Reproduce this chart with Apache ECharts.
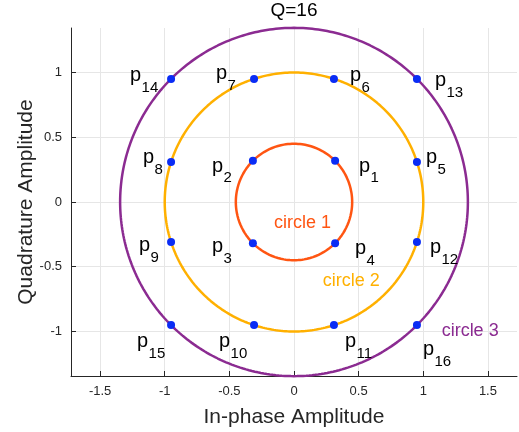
<!DOCTYPE html>
<html>
<head>
<meta charset="utf-8">
<script src="https://cdn.jsdelivr.net/npm/echarts@6/dist/echarts.min.js"></script>
<style>
  html, body { margin: 0; padding: 0; background: #fff; }
  #chart { width: 519px; height: 432px; }
</style>
</head>
<body>
<div id="chart"></div>
<script>
// Axis ticks
const xTicks = [-1.5, -1, -0.5, 0, 0.5, 1, 1.5];
const yTicks = [-1, -0.5, 0, 0.5, 1];

// Constellation rings
const circleNames = ['circle 1', 'circle 2', 'circle 3'];
const circleRadii = [0.45, 1.0, 1.345];
// Where each ring's name is written (data units, left edge / vertical middle)
const circleLabelX = [-0.155, 0.222, 1.142];
const circleLabelY = [-0.162, -0.613, -0.993];

// Constellation points p1..p16
const pointIds = ['1', '2', '3', '4', '5', '6', '7', '8', '9', '10', '11', '12', '13', '14', '15', '16'];
const pointI = [0.318, -0.318, -0.318, 0.318, 0.951, 0.309, -0.309, -0.951, -0.951, -0.309, 0.309, 0.951, 0.951, -0.951, -0.951, 0.951];
const pointQ = [0.318, 0.318, -0.318, -0.318, 0.309, 0.951, 0.951, 0.309, -0.309, -0.951, -0.951, -0.309, 0.951, 0.951, -0.951, -0.951];

// Layout: pixel shift of each point's name from the point
// (left edge of the "p", top of its bowl)
const labelShift = [
  [25, 2], [-40, 2], [-40, 0], [21, 2], [10, -8], [17, -7], [-37, -9], [-27, -8],
  [-31, 0], [-34, 13], [12, 13], [14, 2], [19, -2], [-40, -7], [-33, 13], [7, 21]
];

const circleColors = ['#ff5512', '#ffb000', '#8b2b91'];
const FONT = '"Liberation Sans", Arial, Helvetica, sans-serif';
const AXIS_COLOR = '#262626';
const P_SIZE = 20;
const SUB_SIZE = 15;

function ringPath(r) {
  const pts = [];
  for (let k = 0; k <= 360; k++) {
    const t = k * Math.PI / 180;
    pts.push([r * Math.cos(t), r * Math.sin(t)]);
  }
  return pts;
}

const series = [];
circleRadii.forEach((r, i) => {
  series.push({
    name: circleNames[i],
    type: 'line',
    data: ringPath(r),
    showSymbol: false,
    symbol: 'none',
    clip: false,
    lineStyle: { color: circleColors[i], width: 2.5 },
    silent: true,
    z: 2
  });
});

series.push({
  name: 'ring names',
  type: 'scatter',
  symbolSize: 0,
  silent: true,
  itemStyle: { opacity: 1 },
  z: 3,
  data: circleNames.map((n, i) => ({
    value: [circleLabelX[i], circleLabelY[i]],
    label: {
      show: true,
      position: 'inside',
      align: 'left',
      verticalAlign: 'middle',
      formatter: n,
      color: circleColors[i],
      fontSize: 18,
      fontFamily: FONT
    }
  }))
});

// Blue constellation points with the "p" of their names
series.push({
  name: 'points',
  type: 'scatter',
  symbol: 'circle',
  symbolSize: 8,
  itemStyle: { color: '#0a2cf5', opacity: 1 },
  z: 4,
  data: pointIds.map((id, i) => ({
    value: [pointI[i], pointQ[i]],
    label: {
      show: true,
      position: 'inside',
      align: 'left',
      verticalAlign: 'top',
      offset: [labelShift[i][0] - 1, labelShift[i][1] - 6.5],
      formatter: 'p',
      color: '#000',
      fontSize: P_SIZE,
      lineHeight: P_SIZE,
      fontFamily: FONT
    }
  }))
});

// Subscript index of each point name
series.push({
  name: 'point index',
  type: 'scatter',
  symbolSize: 0,
  silent: true,
  itemStyle: { opacity: 1 },
  z: 5,
  data: pointIds.map((id, i) => ({
    value: [pointI[i], pointQ[i]],
    label: {
      show: true,
      position: 'inside',
      align: 'left',
      verticalAlign: 'top',
      offset: [labelShift[i][0] + 10.5, labelShift[i][1] + 8],
      formatter: id,
      color: '#000',
      fontSize: SUB_SIZE,
      lineHeight: SUB_SIZE,
      fontFamily: FONT
    }
  }))
});

const chart = echarts.init(document.getElementById('chart'), null, { renderer: 'canvas' });
chart.setOption({
  animation: false,
  backgroundColor: '#fff',
  title: {
    text: 'Q=16',
    left: 294,
    top: 1,
    padding: 0,
    textAlign: 'center',
    textStyle: { fontSize: 19, fontWeight: 'normal', color: '#000', fontFamily: FONT }
  },
  grid: { left: 71, right: 2, top: 28, bottom: 56, containLabel: false, outerBoundsMode: 'none' },
  xAxis: {
    type: 'value',
    min: -1.725,
    max: 1.725,
    name: 'In-phase Amplitude',
    nameLocation: 'middle',
    nameGap: 31,
    nameTextStyle: { fontSize: 21, color: AXIS_COLOR, fontFamily: FONT },
    axisLine: { show: true, onZero: false, lineStyle: { color: AXIS_COLOR, width: 1 } },
    axisTick: { show: true, inside: true, length: 5, customValues: xTicks, lineStyle: { color: AXIS_COLOR } },
    axisLabel: { customValues: xTicks, margin: 9, fontSize: 13, color: AXIS_COLOR, fontFamily: FONT },
    splitLine: { show: true, lineStyle: { color: '#e6e6e6', width: 1 } }
  },
  yAxis: {
    type: 'value',
    min: -1.344,
    max: 1.344,
    name: 'Quadrature Amplitude',
    nameLocation: 'middle',
    nameGap: 34,
    nameMoveOverlap: false,
    nameTextStyle: { fontSize: 21, color: AXIS_COLOR, fontFamily: FONT },
    axisLine: { show: true, onZero: false, lineStyle: { color: AXIS_COLOR, width: 1 } },
    axisTick: { show: true, inside: true, length: 5, customValues: yTicks, lineStyle: { color: AXIS_COLOR } },
    axisLabel: { customValues: yTicks, margin: 9, fontSize: 13, color: AXIS_COLOR, fontFamily: FONT },
    splitLine: { show: true, lineStyle: { color: '#e6e6e6', width: 1 } }
  },
  series: series
});
</script>
</body>
</html>
